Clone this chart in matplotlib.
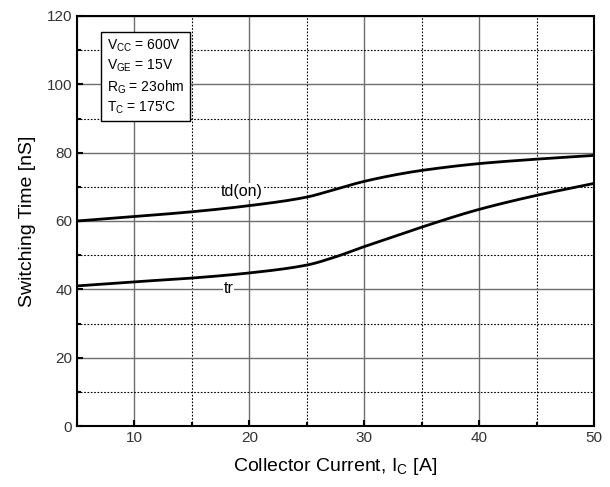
import numpy as np
import matplotlib.pyplot as plt
from matplotlib.ticker import MultipleLocator

# data
current = [5, 10, 15, 20, 25, 27.5, 30, 33, 35, 40, 45, 50]
td_on = [60.0, 61.3, 62.7, 64.5, 67.0, 69.3, 71.6, 73.7, 74.8, 76.8, 78.1, 79.2]
t_r = [41.0, 42.2, 43.3, 44.8, 47.1, 49.5, 52.5, 55.9, 58.2, 63.4, 67.5, 71.0]

conditions = "V$_{\\rm CC}$ = 600V\nV$_{\\rm GE}$ = 15V\nR$_{\\rm G}$ = 23ohm\nT$_{\\rm C}$ = 175'C"

plt.rcParams['font.family'] = ['Liberation Sans', 'DejaVu Sans']
plt.rcParams['mathtext.fontset'] = 'custom'
plt.rcParams['mathtext.rm'] = 'Liberation Sans'

fig = plt.figure(figsize=(6.10, 4.87), dpi=100)
ax = fig.add_axes([77 / 610, 61 / 487, 517 / 610, 410 / 487])

xs = np.linspace(5, 50, 400)


def smooth(x, y):
    # monotone cubic (PCHIP-like) interpolation for a clean line
    x = np.asarray(x, float)
    y = np.asarray(y, float)
    h = np.diff(x)
    d = np.diff(y) / h
    m = np.zeros_like(y)
    m[0], m[-1] = d[0], d[-1]
    for i in range(1, len(y) - 1):
        if d[i - 1] * d[i] > 0:
            w1 = 2 * h[i] + h[i - 1]
            w2 = h[i] + 2 * h[i - 1]
            m[i] = (w1 + w2) / (w1 / d[i - 1] + w2 / d[i])
    out = np.empty_like(xs)
    for j, xv in enumerate(xs):
        k = min(np.searchsorted(x, xv, side='right') - 1, len(x) - 2)
        t = (xv - x[k]) / h[k]
        h00 = 2 * t**3 - 3 * t**2 + 1
        h10 = t**3 - 2 * t**2 + t
        h01 = -2 * t**3 + 3 * t**2
        h11 = t**3 - t**2
        out[j] = h00 * y[k] + h10 * h[k] * m[k] + h01 * y[k + 1] + h11 * h[k] * m[k + 1]
    return out


ax.plot(xs, smooth(current, td_on), color='black', lw=2, zorder=3)
ax.plot(xs, smooth(current, t_r), color='black', lw=2, zorder=3)

label_box = dict(boxstyle='square,pad=0.05', fc='white', ec='none')
ax.text(19.3, 68.6, "td(on)", fontsize=11.5, ha='center', va='center', zorder=4, bbox=label_box)
ax.text(18.2, 40.3, "tr", fontsize=11.5, ha='center', va='center', zorder=4, bbox=label_box)

ax.text(7.6, 113.6, conditions, fontsize=10, va='top', ha='left', linespacing=1.3,
        bbox=dict(boxstyle='square,pad=0.4', fc='white', ec='black', lw=1), zorder=5)

ax.set_xlim(5, 50)
ax.set_ylim(0, 120)
ax.xaxis.set_major_locator(MultipleLocator(10))
ax.xaxis.set_minor_locator(MultipleLocator(5))
ax.yaxis.set_major_locator(MultipleLocator(20))
ax.yaxis.set_minor_locator(MultipleLocator(10))

ax.grid(which='major', color='#6e6e6e', lw=1.0, ls='-')
ax.grid(which='minor', color='black', lw=0.8, ls=(0, (1.5, 1.5)))
ax.set_axisbelow(True)

ax.tick_params(which='both', direction='in', labelsize=11, colors='black')
ax.tick_params(which='major', length=4, width=1.5)
ax.tick_params(which='minor', length=3, width=1.5)
for lab in ax.get_xticklabels() + ax.get_yticklabels():
    lab.set_color('#333333')

for s in ax.spines.values():
    s.set_linewidth(1.5)

ax.set_xlabel("Collector Current, I$_{\\rm C}$ [A]", fontsize=14, labelpad=8)
ax.set_ylabel("Switching Time [nS]", fontsize=14, labelpad=8)

fig.savefig("out.png", dpi=100)
